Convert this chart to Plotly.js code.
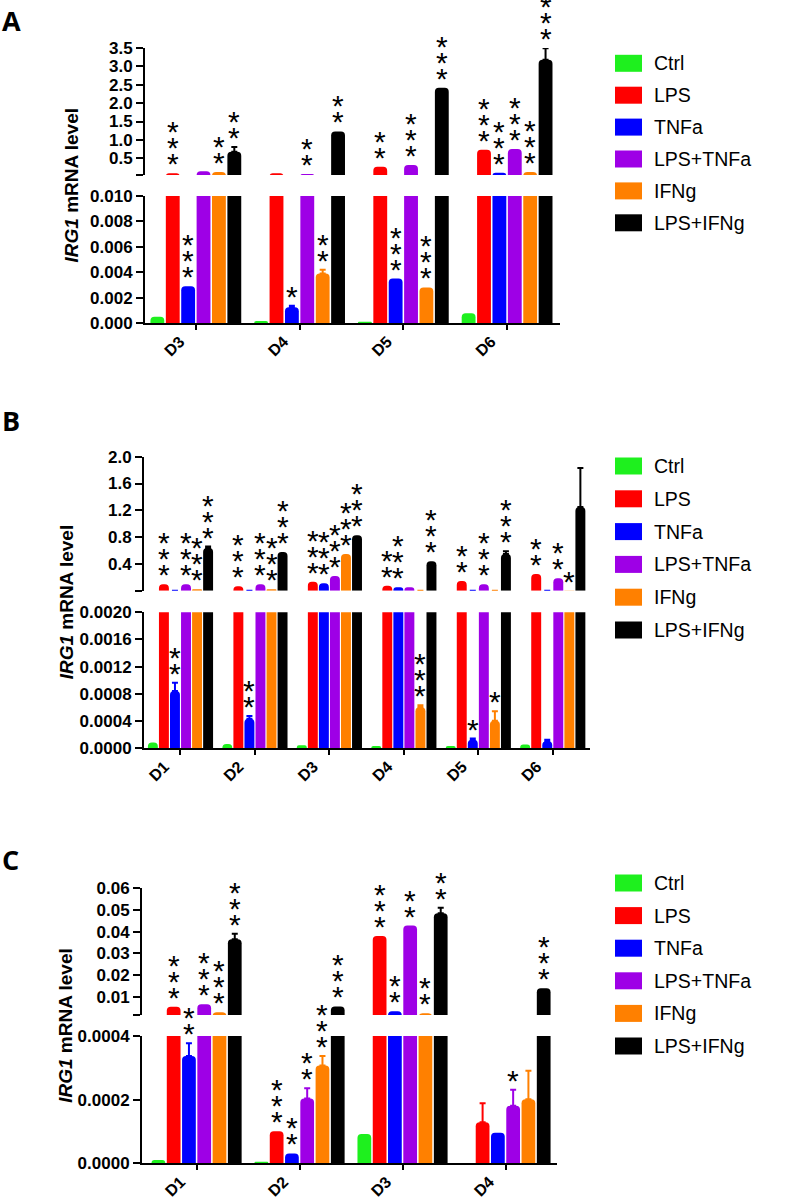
<!DOCTYPE html>
<html><head><meta charset="utf-8">
<script src="https://cdn.plot.ly/plotly-3.0.1.min.js"></script>
<style>html,body{margin:0;padding:0;background:#fff}</style>
</head><body><div id="chart" style="width:797px;height:1200px"></div>
<script>
// ---------- DATA ----------
const seriesNames = ['Ctrl', 'LPS', 'TNFa', 'LPS+TNFa', 'IFNg', 'LPS+IFNg'];
const seriesColors = ['#1ef01e', '#ff0000', '#0000ff', '#9e00e6', '#ff8000', '#000000'];

// Panel A
const daysA = ['D3', 'D4', 'D5', 'D6'];
const ctrlA    = [0.0005, 0.00016, 0.0001, 0.00076];
const lpsA     = [0.09, 0.09, 0.27, 0.73];
const tnfA     = [0.0029, 0.00125, 0.0035, 0.108];
const lpsTnfA  = [0.15, 0.07, 0.32, 0.75];
const ifnA     = [0.13, 0.0039, 0.0028, 0.127];
const lpsIfnA  = [0.68, 1.23, 2.42, 3.18];
const errTnfA    = [null, 0.0001, null, null];
const errIfnA    = [null, 0.0003, null, null];
const errLpsIfnA = [0.13, null, null, 0.31];
const starsLpsA    = [3, 0, 2, 3];
const starsTnfA    = [3, 1, 3, 3];
const starsLpsTnfA = [0, 2, 3, 3];
const starsIfnA    = [2, 2, 3, 3];
const starsLpsIfnA = [2, 2, 3, 3];
const ticksA_lo = [0, 0.002, 0.004, 0.006, 0.008, 0.010];
const ticksA_hi = [0.5, 1.0, 1.5, 2.0, 2.5, 3.0, 3.5];

// Panel B
const daysB = ['D1', 'D2', 'D3', 'D4', 'D5', 'D6'];
const ctrlB    = [0.00008, 0.00006, 0.00004, 0.00003, 0.00003, 0.00005];
const lpsB     = [0.10, 0.07, 0.136, 0.077, 0.147, 0.25];
const tnfB     = [0.00084, 0.00043, 0.112, 0.053, 0.00012, 0.0001];
const lpsTnfB  = [0.10, 0.10, 0.22, 0.053, 0.10, 0.187];
const ifnB     = [0.025, 0.025, 0.55, 0.0006, 0.0004, 0.005];
const lpsIfnB  = [0.64, 0.58, 0.83, 0.44, 0.55, 1.25];
const errTnfB    = [0.00012, 0.00004, null, null, 0.00002, 0.00002];
const errIfnB    = [null, null, null, 0.00003, 0.00014, null];
const errLpsIfnB = [0.02, null, null, null, 0.04, 0.58];
const starsLpsB    = [3, 3, 3, 2, 2, 2];
const starsTnfB    = [2, 2, 3, 3, 1, 0];
const starsLpsTnfB = [3, 3, 3, 0, 3, 2];
const starsIfnB    = [3, 3, 3, 3, 1, 1];
const starsLpsIfnB = [3, 3, 3, 3, 3, 0];
const ticksB_lo = [0, 0.0004, 0.0008, 0.0012, 0.0016, 0.0020];
const ticksB_hi = [0.4, 0.8, 1.2, 1.6, 2.0];

// Panel C
const daysC = ['D1', 'D2', 'D3', 'D4'];
const ctrlC    = [0.00001, 0.000005, 0.000092, 0];
const lpsC     = [0.0054, 0.000101, 0.038, 0.000129];
const tnfC     = [0.000337, 0.000031, 0.0033, 0.000096];
const lpsTnfC  = [0.0065, 0.000204, 0.0428, 0.000181];
const ifnC     = [0.0028, 0.000307, 0.0023, 0.000201];
const lpsIfnC  = [0.0365, 0.0055, 0.0485, 0.0139];
const errLpsC    = [null, null, null, 0.00006];
const errTnfC    = [0.00004, null, null, null];
const errLpsTnfC = [null, 0.000032, null, 0.00005];
const errIfnC    = [null, 0.00003, null, 0.00009];
const errLpsIfnC = [0.0025, null, 0.0025, null];
const starsLpsC    = [3, 3, 3, 0];
const starsTnfC    = [2, 2, 2, 0];
const starsLpsTnfC = [3, 2, 2, 1];
const starsIfnC    = [3, 3, 2, 0];
const starsLpsIfnC = [3, 3, 2, 3];
const ticksC_lo = [0, 0.0002, 0.0004];
const ticksC_hi = [0.01, 0.02, 0.03, 0.04, 0.05, 0.06];

const none4 = [null, null, null, null];
const none6 = [null, null, null, null, null, null];
const zero4 = [0, 0, 0, 0];
const zero6 = [0, 0, 0, 0, 0, 0];

// ---------- LAYOUT GEOMETRY (pixels) ----------
const W = 797, H = 1200;
const BARGAP = 0.11, GROUPGAP = 0.1;
const FONT = 'Liberation Sans, Arial, sans-serif';
const STAR_PX = 30;          // glyph size of an asterisk
const STAR_STEP = 16;        // vertical spacing of stacked asterisks
const STAR_BASE = STAR_STEP / 1.3; // base font so that one line = STAR_STEP px

const panels = [
  { letter: 'A', letterY: 21, days: daysA,
    vals: [ctrlA, lpsA, tnfA, lpsTnfA, ifnA, lpsIfnA],
    errs: [none4, none4, errTnfA, none4, errIfnA, errLpsIfnA],
    stars: [zero4, starsLpsA, starsTnfA, starsLpsTnfA, starsIfnA, starsLpsIfnA],
    xId: 'x', loId: 'y', hiId: 'y2',
    xPx: [145, 560], xRange: [-0.49, 3.51],
    loPx: [196, 323], loRange: [0, 0.010], loTicks: ticksA_lo, loDec: 3,
    hiPx: [48, 175], hiRange: [0.045, 3.5], hiTicks: ticksA_hi, hiDec: 1,
    legendTop: 63.3, legendStep: 31.9, titleX: 71 },
  { letter: 'B', letterY: 420, days: daysB,
    vals: [ctrlB, lpsB, tnfB, lpsTnfB, ifnB, lpsIfnB],
    errs: [none6, none6, errTnfB, none6, errIfnB, errLpsIfnB],
    stars: [zero6, starsLpsB, starsTnfB, starsLpsTnfB, starsIfnB, starsLpsIfnB],
    xId: 'x2', loId: 'y3', hiId: 'y4',
    xPx: [144, 590], xRange: [-0.49, 5.5],
    loPx: [612.3, 748], loRange: [0, 0.0020], loTicks: ticksB_lo, loDec: 4,
    hiPx: [456.7, 590.7], hiRange: [0.002, 2.0], hiTicks: ticksB_hi, hiDec: 1,
    legendTop: 466, legendStep: 32.8, titleX: 66 },
  { letter: 'C', letterY: 859, days: daysC,
    vals: [ctrlC, lpsC, tnfC, lpsTnfC, ifnC, lpsIfnC],
    errs: [none4, errLpsC, errTnfC, errLpsTnfC, errIfnC, errLpsIfnC],
    stars: [zero4, starsLpsC, starsTnfC, starsLpsTnfC, starsIfnC, starsLpsIfnC],
    xId: 'x3', loId: 'y5', hiId: 'y6',
    xPx: [142, 557], xRange: [-0.53, 3.5],
    loPx: [1036, 1163.3], loRange: [0, 0.0004], loTicks: ticksC_lo, loDec: 4,
    hiPx: [888.3, 1015], hiRange: [0.00155, 0.06], hiTicks: ticksC_hi, hiDec: 2,
    legendTop: 883, legendStep: 32.6, titleX: 66 }
];

const axName = id => id.replace(/^x/, 'xaxis').replace(/^y/, 'yaxis');
const fx = px => px / W;
const fy = px => 1 - px / H;

const data = [];
const layout = {
  width: W, height: H,
  margin: { l: 0, r: 0, t: 0, b: 0 },
  paper_bgcolor: '#fff', plot_bgcolor: 'rgba(0,0,0,0)',
  showlegend: false,
  barmode: 'group', bargap: BARGAP, bargroupgap: GROUPGAP,
  barcornerradius: 4,
  annotations: [], shapes: []
};

const tickFont = { family: FONT, size: 17, color: '#000', weight: 'bold' };
const axisCommon = {
  showline: true, linewidth: 2, linecolor: '#000',
  ticks: 'outside', ticklen: 7, tickwidth: 2, tickcolor: '#000',
  showgrid: false, zeroline: false, fixedrange: true, tickfont: tickFont
};

panels.forEach(p => {
  const idx = p.days.map((d, i) => i);
  // x axis
  layout[axName(p.xId)] = Object.assign({}, axisCommon, {
    domain: [fx(p.xPx[0]), fx(p.xPx[1])], range: p.xRange,
    anchor: p.loId, tickvals: idx, ticktext: p.days, tickangle: -45, ticklen: 5,
    tickfont: { family: FONT, size: 16, color: '#000', weight: 'bold' },
    ticklabelshift: -16, ticklabelstandoff: -4
  });
  // lower y
  layout[axName(p.loId)] = Object.assign({}, axisCommon, {
    domain: [fy(p.loPx[1]), fy(p.loPx[0])], range: p.loRange, anchor: p.xId,
    tickvals: p.loTicks, ticktext: p.loTicks.map(v => v.toFixed(p.loDec))
  });
  // upper y (bottom tick marks the break)
  layout[axName(p.hiId)] = Object.assign({}, axisCommon, {
    domain: [fy(p.hiPx[1]), fy(p.hiPx[0])], range: p.hiRange, anchor: p.xId,
    tickvals: [p.hiRange[0]].concat(p.hiTicks),
    ticktext: [''].concat(p.hiTicks.map(v => v.toFixed(p.hiDec)))
  });

  // bars on both segments
  p.vals.forEach((vals, si) => {
    const errs = p.errs[si];
    [p.loId, p.hiId].forEach(yId => {
      data.push({
        type: 'bar', x: idx, y: vals, name: seriesNames[si],
        xaxis: p.xId, yaxis: yId, hoverinfo: 'skip', showlegend: false,
        marker: { color: seriesColors[si], line: { width: 0 } },
        error_y: {
          type: 'data', symmetric: false, visible: true,
          array: errs.map(e => e == null ? NaN : e),
          arrayminus: errs.map(e => e == null ? NaN : 0),
          color: seriesColors[si], thickness: 2, width: 3
        }
      });
    });
  });

  // significance stars: one text block per bar, stacked lines
  const slot = (1 - BARGAP) / seriesNames.length;
  p.stars.forEach((arr, si) => {
    arr.forEach((n, gi) => {
      if (!n) return;
      const v = p.vals[si][gi];
      const e = p.errs[si][gi] || 0;
      const yId = v > p.loRange[1] ? p.hiId : p.loId;
      const star = '<span style="font-size:' + STAR_PX + 'px">*</span>';
      layout.annotations.push({
        xref: p.xId, yref: yId, x: gi + (si - 2.5) * slot, y: v + e,
        text: Array(n).fill(star).join('<br>'),
        showarrow: false, xanchor: 'center', yanchor: 'bottom',
        yshift: -8, borderpad: 0,
        font: { family: FONT, size: STAR_BASE, color: '#000' }
      });
    });
  });

  // y title
  const yMid = (p.hiPx[0] + p.loPx[1]) / 2;
  layout.annotations.push({
    xref: 'paper', yref: 'paper', x: fx(p.titleX), y: fy(yMid),
    text: '<b><i>IRG1</i> mRNA level</b>', textangle: -90, showarrow: false,
    xanchor: 'center', yanchor: 'middle', font: { family: FONT, size: 19, color: '#000' }
  });
  // panel letter
  layout.annotations.push({
    xref: 'paper', yref: 'paper', x: fx(0), y: fy(p.letterY),
    text: '<b>' + p.letter + '</b>', showarrow: false,
    xanchor: 'left', yanchor: 'middle', font: { family: 'Open Sans, sans-serif', size: 27, color: '#000' }
  });
  // legend
  seriesNames.forEach((nm, si) => {
    const cy = p.legendTop + si * p.legendStep;
    layout.shapes.push({
      type: 'rect', xref: 'paper', yref: 'paper',
      x0: fx(615), x1: fx(642), y0: fy(cy - 8.5), y1: fy(cy + 8.5),
      fillcolor: seriesColors[si], line: { width: 0 }
    });
    layout.annotations.push({
      xref: 'paper', yref: 'paper', x: fx(652), y: fy(cy), text: nm,
      showarrow: false, xanchor: 'left', yanchor: 'middle',
      font: { family: FONT, size: 19.5, color: '#000' }
    });
  });
});

Plotly.newPlot('chart', data, layout, { staticPlot: true, displayModeBar: false });
</script>
</body></html>
